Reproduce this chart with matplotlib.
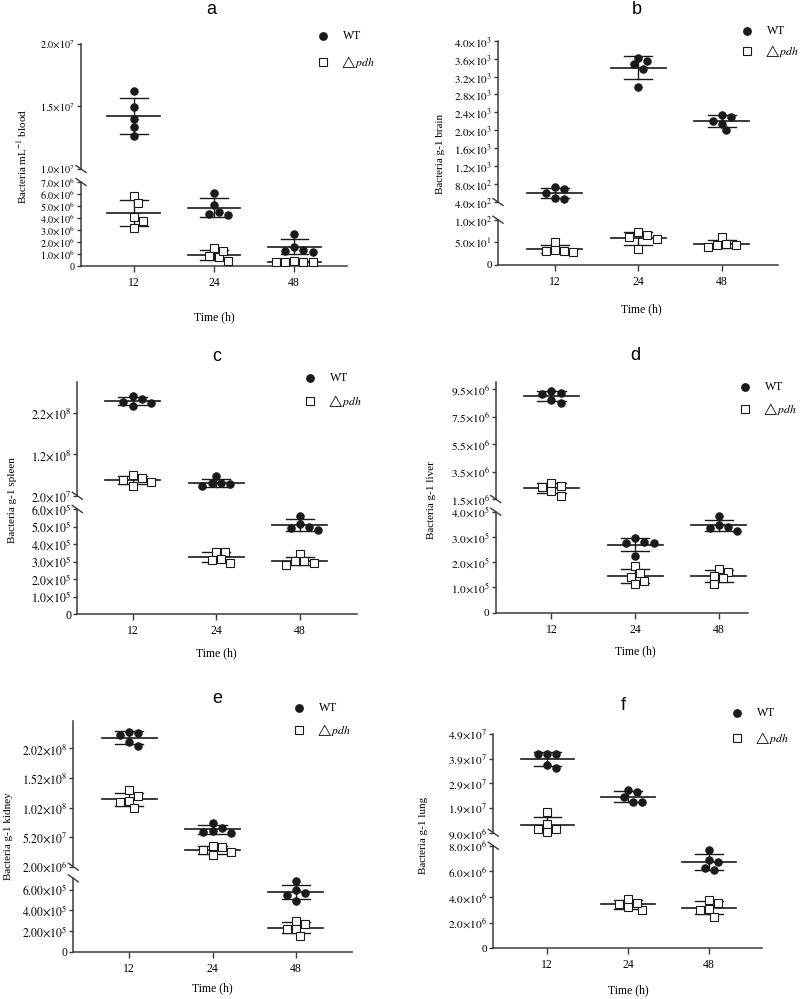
import numpy as np
import matplotlib
matplotlib.use('Agg')
import matplotlib.pyplot as plt
from matplotlib.lines import Line2D

plt.rcParams['font.family'] = ['Liberation Serif', 'DejaVu Serif']
plt.rcParams['mathtext.fontset'] = 'stix'

times = ['12', '24', '48']

# a - blood (bacteria per mL)
blood_wt = [[1.624e7, 1.496e7, 1.40e7, 1.336e7, 1.264e7],
            [6.11e6, 4.53e6, 4.25e6, 4.36e6, 5.08e6],
            [2.67e6, 1.61e6, 1.28e6, 1.19e6, 1.33e6]]
blood_pdh = [[5.83e6, 5.22e6, 4.11e6, 3.75e6, 3.14e6],
             [1.47e6, 0.86e6, 0.44e6, 0.72e6, 1.28e6],
             [0.42e6, 0.31e6, 0.31e6, 0.31e6, 0.36e6]]
blood_top = [1.0e7, 1.5e7, 2.0e7]
blood_bot = [0, 1e6, 2e6, 3e6, 4e6, 5e6, 6e6, 7e6]

# b - brain
brain_wt = [[726, 696, 607, 467, 496],
            [3622, 3474, 3541, 3370, 2963],
            [2304, 2333, 2207, 2141, 2000]]
brain_pdh = [[50.7, 31.6, 27.9, 30.9, 33.8],
             [72, 61, 57.4, 66.9, 36],
             [61, 44, 39, 43.4, 47]]
brain_top = [400, 800, 1200, 1600, 2000, 2400, 2800, 3200, 3600, 4000]
brain_bot = [0, 50, 100]

# c - spleen
spleen_wt = [[2.472e8, 2.36e8, 2.616e8, 2.456e8, 2.552e8],
             [6.8e7, 5.04e7, 4.24e7, 4.72e7, 5.04e7],
             [5.62e5, 4.99e5, 4.8e5, 4.91e5, 5.12e5]]
spleen_pdh = [[5.84e7, 4.4e7, 7.12e7, 5.36e7, 6.4e7],
              [3.57e5, 3.53e5, 3.17e5, 3.09e5, 2.9e5],
              [3.42e5, 3.02e5, 2.79e5, 2.9e5, 3.02e5]]
spleen_top = [2.0e7, 1.2e8, 2.2e8]
spleen_bot = [0, 1e5, 2e5, 3e5, 4e5, 5e5, 6e5]

# d - liver
liver_wt = [[9.13e6, 9.38e6, 9.21e6, 8.52e6, 8.72e6],
            [2.94e5, 2.75e5, 2.75e5, 2.81e5, 2.24e5],
            [3.84e5, 3.41e5, 3.22e5, 3.35e5, 3.47e5]]
liver_pdh = [[2.405e6, 2.70e6, 2.455e6, 1.745e6, 2.09e6],
             [1.86e5, 1.43e5, 1.56e5, 1.27e5, 1.14e5],
             [1.74e5, 1.47e5, 1.62e5, 1.36e5, 1.14e5]]
liver_top = [1.5e6, 3.5e6, 5.5e6, 7.5e6, 9.5e6]
liver_bot = [0, 1e5, 2e5, 3e5, 4e5]

# e - kidney
kidney_wt = [[2.29e8, 2.245e8, 2.30e8, 2.133e8, 2.059e8],
             [7.64e7, 6.23e7, 5.83e7, 6.11e7, 6.79e7],
             [6.81e5, 5.67e5, 5.93e5, 5.45e5, 4.93e5]]
kidney_pdh = [[1.316e8, 1.13e8, 1.22e8, 1.119e8, 1.017e8],
              [3.75e7, 3.02e7, 2.17e7, 2.73e7, 3.58e7],
              [2.98e5, 2.17e5, 2.66e5, 2.17e5, 1.56e5]]
kidney_top = [2.00e6, 5.20e7, 1.02e8, 1.52e8, 2.02e8]
kidney_bot = [0, 2e5, 4e5, 6e5]

# f - lung
lung_wt = [[4.09e7, 4.09e7, 4.09e7, 3.508e7, 3.643e7],
           [2.63e7, 2.333e7, 2.13e7, 2.157e7, 2.535e7],
           [7.66e6, 6.75e6, 6.10e6, 6.29e6, 6.88e6]]
lung_pdh = [[1.751e7, 1.049e7, 0.914e7, 1.035e7, 1.238e7],
            [3.87e6, 3.43e6, 2.99e6, 3.25e6, 3.56e6],
            [3.77e6, 3.04e6, 3.56e6, 2.99e6, 2.47e6]]
lung_top = [9.0e6, 1.9e7, 2.9e7, 3.9e7, 4.9e7]
lung_bot = [0, 2e6, 4e6, 6e6, 8e6]

# panel: (letter, wt, pdh, top ticks, bottom ticks, top ylim, bottom ylim, ylabel, decimals)
panels = [
    ('a', blood_wt, blood_pdh, blood_top, blood_bot, (1e7, 2e7), (0, 7e6),
     r'Bacteria mL$^{-1}$ blood', 1),
    ('b', brain_wt, brain_pdh, brain_top, brain_bot, (400, 4000), (0, 100),
     'Bacteria g-1 brain', 1),
    ('c', spleen_wt, spleen_pdh, spleen_top, spleen_bot, (2e7, 2.96e8), (0, 6e5),
     'Bacteria g-1 spleen', 1),
    ('d', liver_wt, liver_pdh, liver_top, liver_bot, (1.5e6, 1.0e7), (0, 4e5),
     'Bacteria g-1 liver', 1),
    ('e', kidney_wt, kidney_pdh, kidney_top, kidney_bot, (2e6, 2.49e8), (0, 7.1e5),
     'Bacteria g-1 kidney', 2),
    ('f', lung_wt, lung_pdh, lung_top, lung_bot, (9e6, 4.9e7), (0, 8e6),
     'Bacteria g-1 lung', 1),
]

# layout in pixels (y measured from the top of the image)
layout = {
    'a': dict(x0=81, x1=347, xlim=(-0.66, 2.66), top=(169, 44), bot=(266, 182), tsize=7.3,
              title=(211, 10), leg=(323, 36, 62), ylab=(22, 156), xlab=(214, 317)),
    'b': dict(x0=498, x1=777.7, xlim=(-0.68, 2.67), top=(202, 40.7), bot=(265, 219.7), tsize=8.0,
              title=(637, 10), leg=(747, 31, 51), ylab=(440, 154), xlab=(641, 309)),
    'c': dict(x0=77.3, x1=356.7, xlim=(-0.66, 2.68), top=(495.7, 381.7), bot=(614.3, 509), tsize=8.6,
              title=(216.7, 356.7), leg=(310, 378, 401), ylab=(13, 500), xlab=(216.7, 653)),
    'd': dict(x0=495.7, x1=748, xlim=(-0.667, 2.35), top=(499, 382.3), bot=(612.7, 511.7), tsize=8.2,
              title=(635.7, 355), leg=(745, 386.7, 409), ylab=(432, 500), xlab=(635.7, 651.7)),
    'e': dict(x0=73.3, x1=351.7, xlim=(-0.67, 2.67), top=(866.7, 720.7), bot=(951.7, 878.3), tsize=8.4,
              title=(217.3, 698.3), leg=(299.3, 708.3, 730), ylab=(8.3, 836), xlab=(212.3, 988.3)),
    'f': dict(x0=493.3, x1=761.7, xlim=(-0.667, 2.65), top=(832.7, 734), bot=(948.3, 845.7), tsize=8.2,
              title=(623.3, 705), leg=(737.3, 713.3, 737.7), ylab=(423.3, 835), xlab=(628.3, 990)),
}

W, H = 800, 999
INK = '#1a1a1a'
SPINE = '#3a3a3a'
fig = plt.figure(figsize=(W / 100, H / 100), dpi=100)


def fx(px):
    return px / W


def fy(py):
    return 1 - py / H


def tick_label(v, nd):
    if v == 0:
        return '0'
    e = int(np.floor(np.log10(v) + 1e-9))
    m = v / 10 ** e
    return r'$\mathrm{%.*f{\times}10^{%d}}$' % (nd, m, e)


def seg_axes(lay, lo, hi, ylim, ticks, nd, bottom):
    ax = fig.add_axes([fx(lay['x0']), fy(lo), fx(lay['x1']) - fx(lay['x0']), (lo - hi) / H])
    ax.set_xlim(lay['xlim'])
    ax.set_ylim(ylim)
    ax.patch.set_alpha(0)
    for s in ['top', 'right']:
        ax.spines[s].set_visible(False)
    ax.spines['left'].set_color(SPINE)
    ax.spines['left'].set_linewidth(1.1)
    ax.set_yticks(ticks)
    ax.set_yticklabels([tick_label(t, nd) for t in ticks])
    ax.tick_params(axis='y', direction='out', length=3, width=1, pad=1.5,
                   labelsize=lay['tsize'], color=SPINE)
    if bottom:
        ax.spines['bottom'].set_color(SPINE)
        ax.spines['bottom'].set_linewidth(1.1)
        ax.set_xticks(range(len(times)))
        ax.set_xticklabels(times)
        ax.tick_params(axis='x', direction='out', length=4, width=1, pad=4,
                       labelsize=8.5, color=SPINE)
    else:
        ax.spines['bottom'].set_visible(False)
        ax.set_xticks([])
    return ax


def swarm_offsets(ax_for, xc, vals, d=7.6, step=4.6):
    py = []
    for v in vals:
        ax = ax_for(v)
        py.append(ax.transData.transform((xc, v))[1])
    ax0 = ax_for(vals[0])
    ppu = ax0.transData.transform((1, 0))[0] - ax0.transData.transform((0, 0))[0]
    order = np.argsort(-np.array(py))
    placed = []
    offs = np.zeros(len(vals))
    for i in order:
        k = 0
        while True:
            m = (k + 1) // 2
            off = m * step * (1 if k % 2 else -1)
            if all(np.hypot(off - ox, py[i] - oy) >= d for ox, oy in placed):
                break
            k += 1
        placed.append((off, py[i]))
        offs[i] = off / ppu
    return offs


for letter, wt, pdh, tticks, bticks, tlim, blim, ylab, nd in panels:
    lay = layout[letter]
    ax_t = seg_axes(lay, lay['top'][0], lay['top'][1], tlim, tticks, nd, False)
    ax_b = seg_axes(lay, lay['bot'][0], lay['bot'][1], blim, bticks, nd, True)

    def ax_for(v, ax_t=ax_t, ax_b=ax_b, blim=blim):
        return ax_b if v <= blim[1] else ax_t

    for groups, mk, fc in [(wt, 'o', INK), (pdh, 's', 'white')]:
        for i, vals in enumerate(groups):
            vals = np.array(vals)
            xs = i + swarm_offsets(ax_for, i, vals)
            mean = vals.mean()
            sd = vals.std(ddof=1)
            for ax in (ax_t, ax_b):
                ax.plot([i - 0.33, i + 0.33], [mean, mean], color=INK, lw=1.2, zorder=2)
                ax.plot([i, i], [mean - sd, mean + sd], color=INK, lw=1.0, zorder=2)
                for yy in (mean - sd, mean + sd):
                    ax.plot([i - 0.17, i + 0.17], [yy, yy], color=INK, lw=1.0, zorder=2)
                sel = np.array([ax_for(v) is ax for v in vals])
                if sel.any():
                    ax.plot(xs[sel], vals[sel], ls='none', marker=mk, ms=5.3,
                            mfc=fc, mec=INK, mew=0.8, clip_on=False, zorder=3)

    # break marks on the y axis
    for yb in (lay['top'][0], lay['bot'][1]):
        fig.add_artist(Line2D([fx(lay['x0'] - 5), fx(lay['x0'] + 5)],
                              [fy(yb - 3.5), fy(yb + 3.5)],
                              transform=fig.transFigure, color=SPINE, lw=1.0))

    # titles and axis labels
    fig.text(fx(lay['title'][0]), fy(lay['title'][1]), letter, ha='center', va='center',
             fontsize=13, family='Liberation Sans')
    fig.text(fx(lay['ylab'][0]), fy(lay['ylab'][1]), ylab, rotation=90, ha='center',
             va='center', fontsize=8)
    fig.text(fx(lay['xlab'][0]), fy(lay['xlab'][1]), 'Time (h)', ha='center',
             va='center', fontsize=8.5)

    # legend
    lx, ly1, ly2 = lay['leg']
    fig.add_artist(Line2D([fx(lx)], [fy(ly1)], transform=fig.transFigure, ls='none',
                          marker='o', ms=5.3, mfc=INK, mec=INK))
    fig.add_artist(Line2D([fx(lx)], [fy(ly2)], transform=fig.transFigure, ls='none',
                          marker='s', ms=5.3, mfc='white', mec=INK, mew=0.8))
    fig.text(fx(lx + 20), fy(ly1), 'WT', ha='left', va='center', fontsize=8.5)
    fig.text(fx(lx + 17), fy(ly2), r'$\triangle\!\mathit{pdh}$', ha='left', va='center',
             fontsize=8.5)

fig.savefig('out.png', dpi=100)
